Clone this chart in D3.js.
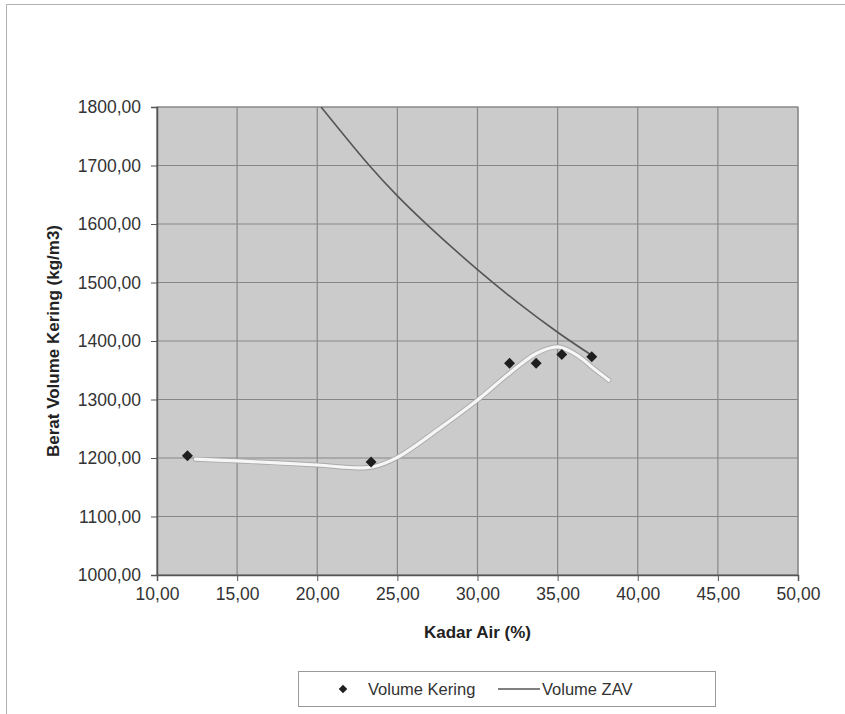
<!DOCTYPE html>
<html><head><meta charset="utf-8">
<script src="https://cdn.jsdelivr.net/npm/d3@7"></script>
<style>
body{margin:0;background:#fff;}
text{font-family:"Liberation Sans",Arial,sans-serif;}
</style></head>
<body><svg id="c" width="845" height="714"></svg>
<script>
// ---- data ----
const xTicks = [10,15,20,25,30,35,40,45,50];
const yTicks = [1000,1100,1200,1300,1400,1500,1600,1700,1800];
const keringX = [11.9, 23.36, 32.0, 33.66, 35.26, 37.13];
const keringY = [1204, 1193, 1362, 1362, 1377, 1373];
const trendX = [12.4, 15, 20, 22.5, 23.5, 25, 27.5, 30, 32, 33.7, 35, 36.2, 37.25, 38.2];
const trendY = [1198, 1195, 1188, 1183, 1185, 1201, 1248, 1299, 1345, 1379, 1390, 1376, 1353, 1333];
const zavX = [20.24, 23.25, 25, 26.73, 30, 32.5, 35, 37.1];
const zavY = [1800, 1700, 1648, 1602, 1522, 1466, 1415, 1376];
const xTitle = "Kadar Air (%)";
const yTitle = "Berat Volume Kering (kg/m3)";
const legendLabels = ["Volume Kering", "Volume ZAV"];

const fmt = v => v.toFixed(2).replace(".", ",");
const FONT = "'Liberation Sans',Arial,sans-serif";

const svg = d3.select("#c");
// outer frame
svg.append("line").attr("x1",6.5).attr("y1",4.5).attr("x2",845).attr("y2",4.5).attr("stroke","#b0b0b0");
svg.append("line").attr("x1",6.5).attr("y1",4.5).attr("x2",6.5).attr("y2",714).attr("stroke","#b0b0b0");

const L = 157, R = 798, T = 107, B = 575;
const x = d3.scaleLinear().domain([10,50]).range([L,R]);
const y = d3.scaleLinear().domain([1000,1800]).range([B,T]);

// plot background
svg.append("rect").attr("x",L).attr("y",T).attr("width",R-L).attr("height",B-T)
  .attr("fill","#cbcbcb").attr("stroke","#8a8a8a");

// grid
const g = svg.append("g");
g.selectAll(".vg").data(xTicks).join("line")
  .attr("x1",d=>x(d)).attr("x2",d=>x(d)).attr("y1",T).attr("y2",B)
  .attr("stroke","#878787").attr("stroke-width",1.2);
g.selectAll(".hg").data(yTicks).join("line")
  .attr("y1",d=>y(d)).attr("y2",d=>y(d)).attr("x1",L).attr("x2",R)
  .attr("stroke","#878787").attr("stroke-width",1.2);

// axes
const xAxis = d3.axisBottom(x).tickValues(xTicks).tickFormat(fmt).tickSize(6).tickPadding(7);
const yAxis = d3.axisLeft(y).tickValues(yTicks).tickFormat(fmt).tickSize(6).tickPadding(10);
const gx = svg.append("g").attr("transform",`translate(0,${B})`).call(xAxis);
const gy = svg.append("g").attr("transform",`translate(${L},0)`).call(yAxis);
[gx,gy].forEach(a=>{
  a.attr("font-size",null).attr("font-family",null);
  a.select(".domain").attr("stroke","#555").attr("stroke-width",1.5);
  a.selectAll(".tick line").attr("stroke","#555");
  a.selectAll(".tick text").attr("fill","#333").attr("font-size","17.5px")
   .attr("font-family",FONT);
});

// clip
svg.append("clipPath").attr("id","clip").append("rect").attr("x",L).attr("y",T).attr("width",R-L).attr("height",B-T);

// ZAV line
const zav = zavX.map((v,i)=>[v,zavY[i]]);
svg.append("path").attr("clip-path","url(#clip)")
  .attr("d", d3.line().x(d=>x(d[0])).y(d=>y(d[1])).curve(d3.curveCatmullRom.alpha(0.5))(zav))
  .attr("fill","none").attr("stroke","#555").attr("stroke-width",1.6);

// trend (white)
const tr = trendX.map((v,i)=>[v,trendY[i]]);
const trLine = d3.line().x(d=>x(d[0])).y(d=>y(d[1])).curve(d3.curveCatmullRom.alpha(0.5));
svg.append("path").attr("d",trLine(tr)).attr("fill","none").attr("stroke","#aaaaaa").attr("stroke-width",5).attr("stroke-linecap","round");
svg.append("path").attr("d",trLine(tr)).attr("fill","none").attr("stroke","#f6f6f6").attr("stroke-width",3.2).attr("stroke-linecap","round");

// points (diamonds = rotated squares)
const sym = d3.symbol().type(d3.symbolSquare).size(60);
svg.selectAll(".pt").data(keringX.map((v,i)=>[v,keringY[i]])).join("path")
  .attr("d",sym).attr("transform",d=>`translate(${x(d[0])},${y(d[1])}) rotate(45)`)
  .attr("fill","#1e1e1e");

// axis titles
svg.append("text").attr("x",(L+R)/2).attr("y",638).attr("text-anchor","middle")
  .attr("font-size","17px").attr("font-weight","bold").attr("fill","#222").text(xTitle);
svg.append("text").attr("transform",`translate(59,${(T+B)/2}) rotate(-90)`).attr("text-anchor","middle")
  .attr("font-size","17px").attr("font-weight","bold").attr("fill","#222").text(yTitle);

// legend
const lg = svg.append("g");
lg.append("rect").attr("x",298.5).attr("y",671.5).attr("width",417).attr("height",35)
  .attr("fill","#fff").attr("stroke","#999");
lg.append("path").attr("d",d3.symbol().type(d3.symbolSquare).size(36)())
  .attr("transform","translate(343,689) rotate(45)").attr("fill","#1e1e1e");
lg.append("text").attr("x",368).attr("y",695).attr("font-size","16.5px").attr("fill","#333").text(legendLabels[0]);
lg.append("line").attr("x1",498).attr("x2",540).attr("y1",689).attr("y2",689).attr("stroke","#555").attr("stroke-width",1.3);
lg.append("text").attr("x",542).attr("y",695).attr("font-size","16.5px").attr("fill","#333").text(legendLabels[1]);
</script></body></html>
